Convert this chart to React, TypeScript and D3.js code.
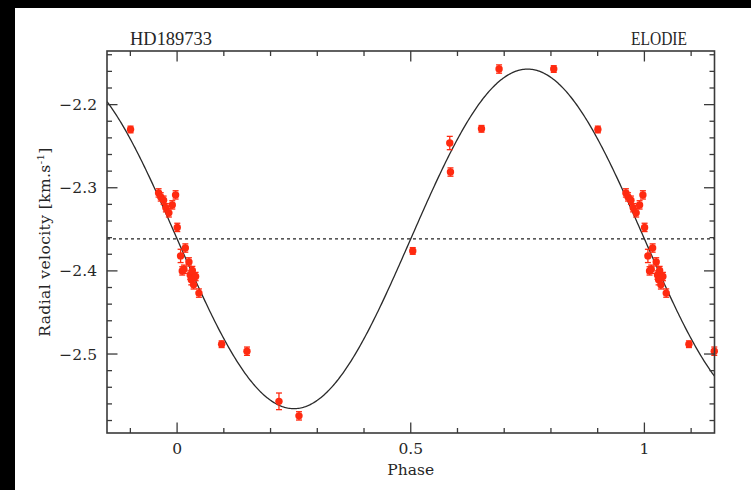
import React from "react";
import * as d3 from "d3";

// Orbital phase of each ELODIE observation (folded into [0, 1))
const obsPhase = [
  0.9604, 0.9650, 0.9711, 0.9760, 0.9824, 0.9897, 0.9968, 0.0004, 0.0075, 0.0110,
  0.0146, 0.0176, 0.0253, 0.0280, 0.0304, 0.0326, 0.0353, 0.0396, 0.0467,
  0.0953, 0.1495, 0.2180, 0.2608, 0.5043, 0.5835, 0.5850, 0.6514, 0.6890,
  0.8060, 0.9004,
];
// Radial velocity [km/s]
const obsRV = [
  -2.3062, -2.3110, -2.3150, -2.3240, -2.3302, -2.3206, -2.3086, -2.3477, -2.3820, -2.4000,
  -2.3980, -2.3725, -2.3892, -2.4050, -2.4108, -2.3996, -2.4168, -2.4068, -2.4267,
  -2.4882, -2.4966, -2.5569, -2.5744, -2.3760, -2.2462, -2.2811, -2.2291, -2.1572,
  -2.1572, -2.2299,
];
// 1-sigma uncertainty [km/s]
const obsErr = [
  0.005, 0.005, 0.005, 0.005, 0.005, 0.005, 0.005, 0.005, 0.008, 0.005,
  0.005, 0.005, 0.005, 0.005, 0.006, 0.005, 0.005, 0.005, 0.005,
  0.004, 0.005, 0.010, 0.005, 0.004, 0.008, 0.005, 0.004, 0.005,
  0.004, 0.004,
];

// Circular orbit fit: v = gamma - K sin(2 pi phase)
const GAMMA = -2.3615;
const K_AMP = 0.2042;

const phaseDomain = [-0.15, 1.15];
const rvDomain = [-2.595, -2.1355];
const phaseMajorTicks = [0, 0.5, 1];
const phaseTickLabels = ["0", "0.5", "1"];
const rvMajorTicks = [-2.2, -2.3, -2.4, -2.5];
const rvTickLabels = ["\u22122.2", "\u22122.3", "\u22122.4", "\u22122.5"];
const starName = "HD189733";
const instrument = "ELODIE";

const W = 751;
const H = 490;
const L = 107, R = 714.5, T = 51, B = 433;

export default function App() {
  const x = d3.scaleLinear().domain(phaseDomain).range([L, R]);
  const y = d3.scaleLinear().domain(rvDomain).range([B, T]);

  // Repeat each observation one cycle before/after when it falls in the plotted window
  const pts: { p: number; v: number; e: number }[] = [];
  obsPhase.forEach((p, i) => {
    [-1, 0, 1].forEach((s) => {
      const q = p + s;
      if (q >= phaseDomain[0] - 0.002 && q <= phaseDomain[1] + 0.002) {
        pts.push({ p: q, v: obsRV[i], e: obsErr[i] });
      }
    });
  });

  const curvePhases = d3.range(phaseDomain[0], phaseDomain[1] + 0.0001, 0.0025);
  const line = d3
    .line<number>()
    .x((p) => x(p))
    .y((p) => y(GAMMA - K_AMP * Math.sin(2 * Math.PI * p)))
    .curve(d3.curveLinear);

  const phaseMinor = d3.range(-0.1, 1.1001, 0.1).map((v) => Math.round(v * 10) / 10);
  const rvMinor = d3.range(-2.58, -2.139, 0.02).map((v) => Math.round(v * 100) / 100);

  const axisColor = "#3a3a3a";
  const textColor = "#262626";
  const red = "#ff2a10";

  return (
    <svg
      width={W}
      height={H}
      style={{ position: "absolute", left: 0, top: 0 }}
      fontFamily="'DejaVu Serif', serif"
    >
      <rect x={0} y={0} width={W} height={H} fill="#000" />
      <rect x={15} y={8} width={W - 15} height={H - 8} fill="#fff" />

      <defs>
        <clipPath id="plotArea">
          <rect x={L} y={T} width={R - L} height={B - T} />
        </clipPath>
      </defs>

      {/* systemic velocity */}
      <line
        x1={L}
        x2={R}
        y1={y(GAMMA)}
        y2={y(GAMMA)}
        stroke="#222"
        strokeWidth={1.1}
        strokeDasharray="3,3"
      />

      {/* orbital fit */}
      <path
        d={line(curvePhases) || ""}
        fill="none"
        stroke="#2a2a2a"
        strokeWidth={1.3}
        clipPath="url(#plotArea)"
      />

      {/* observations with error bars */}
      {pts.map((d, i) => (
        <g key={i}>
          <line x1={x(d.p)} x2={x(d.p)} y1={y(d.v - d.e)} y2={y(d.v + d.e)} stroke={red} strokeWidth={1.3} />
          <line x1={x(d.p) - 3} x2={x(d.p) + 3} y1={y(d.v - d.e)} y2={y(d.v - d.e)} stroke={red} strokeWidth={1.3} />
          <line x1={x(d.p) - 3} x2={x(d.p) + 3} y1={y(d.v + d.e)} y2={y(d.v + d.e)} stroke={red} strokeWidth={1.3} />
          <circle cx={x(d.p)} cy={y(d.v)} r={3.7} fill={red} />
        </g>
      ))}

      {/* frame */}
      <rect x={L} y={T} width={R - L} height={B - T} fill="none" stroke={axisColor} strokeWidth={1.6} />

      {/* phase ticks, bottom and top */}
      {phaseMinor.map((p) => {
        const major = phaseMajorTicks.some((m) => Math.abs(m - p) < 1e-6);
        const len = major ? 10.5 : 5;
        return (
          <g key={"px" + p} stroke={axisColor} strokeWidth={1.3}>
            <line x1={x(p)} x2={x(p)} y1={B} y2={B - len} />
            <line x1={x(p)} x2={x(p)} y1={T} y2={T + len} />
          </g>
        );
      })}
      {phaseMajorTicks.map((p, i) => (
        <text key={"pl" + p} x={x(p)} y={454} textAnchor="middle" fontSize={15.5} fill={textColor}>
          {phaseTickLabels[i]}
        </text>
      ))}

      {/* velocity ticks, left and right */}
      {rvMinor.map((v) => {
        const major = rvMajorTicks.some((m) => Math.abs(m - v) < 1e-6);
        const len = major ? 10.5 : 5;
        return (
          <g key={"ry" + v} stroke={axisColor} strokeWidth={1.3}>
            <line x1={L} x2={L + len} y1={y(v)} y2={y(v)} />
            <line x1={R} x2={R - len} y1={y(v)} y2={y(v)} />
          </g>
        );
      })}
      {rvMajorTicks.map((v, i) => (
        <text key={"rl" + v} x={97} y={y(v)} dy="0.36em" textAnchor="end" fontSize={15.5} fill={textColor}>
          {rvTickLabels[i]}
        </text>
      ))}

      {/* axis titles */}
      <text x={x(0.5)} y={475} textAnchor="middle" fontSize={15.5} fill={textColor}>
        Phase
      </text>
      <text
        transform={`translate(50, ${(T + B) / 2}) rotate(-90)`}
        textAnchor="middle"
        fontSize={15.5}
        letterSpacing={0.4}
        fill={textColor}
      >
        Radial velocity [km.s
        <tspan dy={-6} fontSize={10}>-1</tspan>
        <tspan dy={6}>]</tspan>
      </text>

      {/* header labels */}
      <text
        x={130}
        y={44.5}
        fontSize={19}
        fontFamily="'Liberation Serif', serif"
        fill={textColor}
        textLength={82}
        lengthAdjust="spacingAndGlyphs"
      >
        {starName}
      </text>
      <text
        x={687}
        y={44.5}
        fontSize={19}
        fontFamily="'Liberation Serif', serif"
        fill={textColor}
        textAnchor="end"
        textLength={56}
        lengthAdjust="spacingAndGlyphs"
      >
        {instrument}
      </text>
    </svg>
  );
}
